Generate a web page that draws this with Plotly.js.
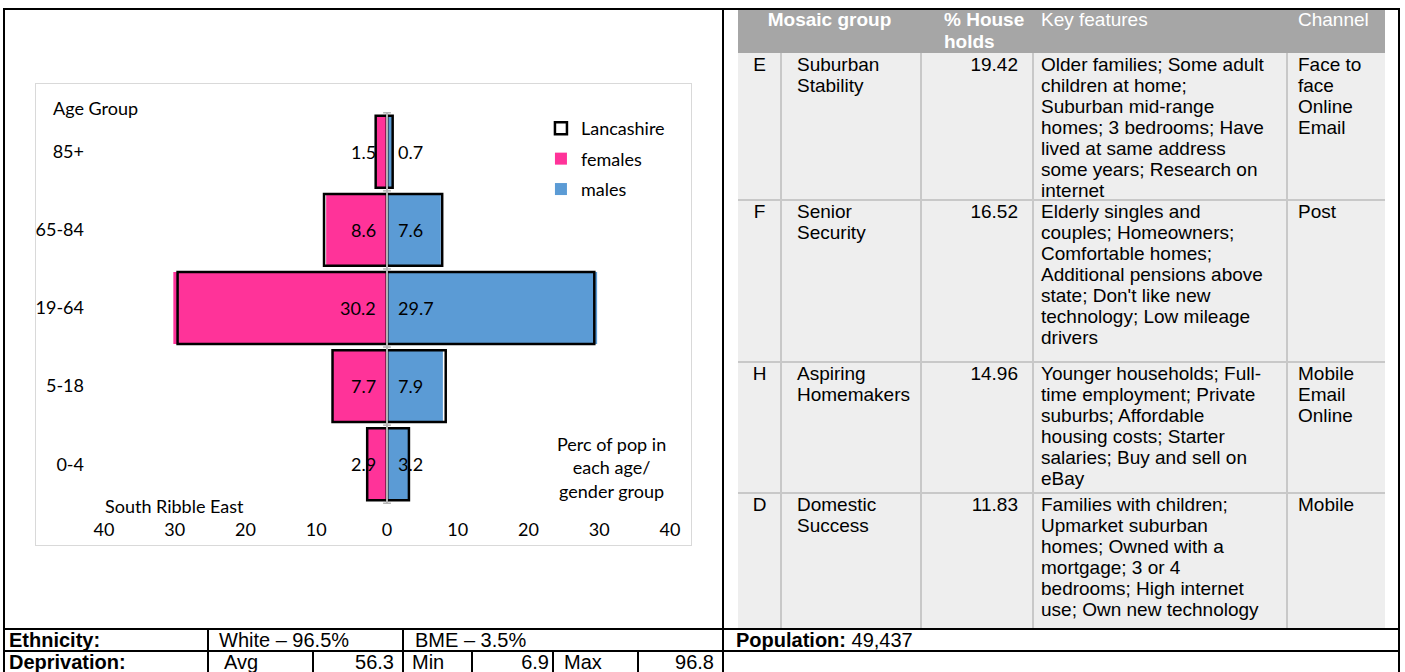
<!DOCTYPE html>
<html><head><meta charset="utf-8">
<script src="https://cdn.plot.ly/plotly-3.0.1.min.js"></script>
<style>
html,body{margin:0;padding:0;background:#fff;}
body{width:1405px;height:672px;position:relative;overflow:hidden;font-family:"Liberation Sans",Arial,sans-serif;color:#000;}
.ln{position:absolute;background:#000;}
.gl{position:absolute;background:#c8c8c8;}
.box{position:absolute;}
.cell{position:absolute;font-size:19px;line-height:21px;white-space:nowrap;}
.hd{position:absolute;font-size:19px;line-height:21.5px;white-space:nowrap;color:#fff;}
#chart{position:absolute;left:35px;top:83px;width:657px;height:463px;}
#frame{position:absolute;left:35px;top:83px;width:655px;height:461px;border:1px solid #d9d9d9;pointer-events:none;}
.bt{position:absolute;line-height:20px;white-space:nowrap;}
</style></head>
<body>
<div id="chart"></div>
<div id="frame"></div>
<script>
// ---- chart data ----
const ageGroups = ['0-4', '5-18', '19-64', '65-84', '85+'];
const females = [2.9, 7.7, 30.2, 8.6, 1.5];
const males = [3.2, 7.9, 29.7, 7.6, 0.7];
const lancFemales = [2.8, 7.7, 29.6, 8.9, 1.6];
const lancMales = [3.1, 8.3, 29.3, 7.8, 0.8];
const xTicks = [-40, -30, -20, -10, 0, 10, 20, 30, 40];
const xTickText = ['40', '30', '20', '10', '0', '10', '20', '30', '40'];

// ---- mosaic table data ----
const mosaicHeaders = ['Mosaic group', '% House<br>holds', 'Key features', 'Channel'];
const mosaicCodes = ['E', 'F', 'H', 'D'];
const mosaicNames = [['Suburban', 'Stability'], ['Senior', 'Security'], ['Aspiring', 'Homemakers'], ['Domestic', 'Success']];
const mosaicPct = ['19.42', '16.52', '14.96', '11.83'];
const mosaicFeatures = [
  ['Older families; Some adult', 'children at home;', 'Suburban mid-range', 'homes; 3 bedrooms; Have', 'lived at same address', 'some years; Research on', 'internet'],
  ['Elderly singles and', 'couples; Homeowners;', 'Comfortable homes;', 'Additional pensions above', "state; Don't like new", 'technology; Low mileage', 'drivers'],
  ['Younger households; Full-', 'time employment; Private', 'suburbs; Affordable', 'housing costs; Starter', 'salaries; Buy and sell on', 'eBay'],
  ['Families with children;', 'Upmarket suburban', 'homes; Owned with a', 'mortgage; 3 or 4', 'bedrooms; High internet', 'use; Own new technology']
];
const mosaicChannels = [['Face to', 'face', 'Online', 'Email'], ['Post'], ['Mobile', 'Email', 'Online'], ['Mobile']];

// ---- bottom rows data ----
const ethnicityLabels = ['White', 'BME'];
const ethnicityValues = ['96.5', '3.5'];
const deprivationLabels = ['Avg', 'Min', 'Max'];
const deprivationValues = ['56.3', '6.9', '96.8'];
const population = '49,437';

// ---- helpers ----
function el(cls, css, html) { const d = document.createElement('div'); d.className = cls; d.style.cssText = css; if (html !== undefined) d.innerHTML = html; document.body.appendChild(d); return d; }
function hl(x1, x2, y, cls) { el(cls || 'ln', `left:${x1}px;top:${y}px;width:${x2 - x1}px;height:2px;`); }
function vl(x, y1, y2, cls) { el(cls || 'ln', `left:${x}px;top:${y1}px;width:2px;height:${y2 - y1}px;`); }

// ---- mosaic table (layout) ----
const r1 = 628, r2 = 650;
const colX = [738, 781, 921, 1033, 1287, 1385];
const rowTop = [53, 200, 362, 493];
const tableBottom = r1;
el('box', `left:${colX[0]}px;top:10px;width:${colX[5] - colX[0]}px;height:${rowTop[0] - 10}px;background:#a6a6a6;`);
el('box', `left:${colX[0]}px;top:${rowTop[0]}px;width:${colX[5] - colX[0]}px;height:${tableBottom - rowTop[0]}px;background:#eeeeee;`);
for (let c = 1; c < 5; c++) vl(colX[c] - 1, rowTop[0], tableBottom, 'gl');
for (let r = 1; r < rowTop.length; r++) hl(colX[0], colX[5], rowTop[r] - 1, 'gl');
// header
el('hd', `left:${colX[0]}px;width:${colX[2] - colX[0]}px;top:9px;text-align:center;font-weight:bold;`, mosaicHeaders[0]);
el('hd', `left:${colX[2] + 23}px;top:9px;font-weight:bold;`, mosaicHeaders[1]);
el('hd', `left:${colX[3] + 8}px;top:9px;`, mosaicHeaders[2]);
el('hd', `left:${colX[4] + 11}px;top:9px;`, mosaicHeaders[3]);
// rows
mosaicCodes.forEach((code, i) => {
  const t = rowTop[i] + 1;
  el('cell', `left:${colX[0]}px;width:${colX[1] - colX[0]}px;top:${t}px;text-align:center;`, code);
  el('cell', `left:${colX[1] + 16}px;top:${t}px;`, mosaicNames[i].join('<br>'));
  el('cell', `right:${1405 - colX[3] + 15}px;top:${t}px;text-align:right;`, mosaicPct[i]);
  el('cell', `left:${colX[3] + 8}px;top:${t}px;`, mosaicFeatures[i].join('<br>'));
  el('cell', `left:${colX[4] + 11}px;top:${t}px;`, mosaicChannels[i].join('<br>'));
});

// ---- document table lines ----
hl(3, 1400, 8); vl(3, 8, 672); vl(1398, 8, 672); vl(722, 8, 672);
hl(3, 1400, r1); hl(3, 1400, r2);
vl(207, r1, 672); vl(402, r1, 672);
vl(312, r2, 672); vl(471, r2, 672); vl(552, r2, 672); vl(637, r2, 672);

function txt(html, x, y, size, align, bold) {
  const css = `top:${y}px;font-size:${size}px;` + (align === 'right' ? `right:${1405 - x}px;` : `left:${x}px;`) + (bold ? 'font-weight:bold;' : '');
  el('bt', css, html);
}
const fs = 20;
txt('Ethnicity:', 9, r1 + 2, fs, 'left', true);
txt(ethnicityLabels[0] + ' – ' + ethnicityValues[0] + '%', 219, r1 + 2, fs);
txt(ethnicityLabels[1] + ' – ' + ethnicityValues[1] + '%', 415, r1 + 2, fs);
txt('<b>Population:</b> ' + population, 736, r1 + 2, fs);
txt('Deprivation:', 9, r2 + 2, fs, 'left', true);
txt(deprivationLabels[0], 224, r2 + 2, fs);
txt(deprivationValues[0], 394, r2 + 2, fs, 'right');
txt(deprivationLabels[1], 412, r2 + 2, fs);
txt(deprivationValues[1], 549, r2 + 2, fs, 'right');
txt(deprivationLabels[2], 564, r2 + 2, fs);
txt(deprivationValues[2], 714, r2 + 2, fs, 'right');

// ---- plotly chart ----
const cf = { family: 'Lato, "Open Sans", sans-serif', size: 18, color: '#000' };
const neg = a => a.map(v => -v);
const traces = [
  { type: 'bar', orientation: 'h', y: ageGroups, x: neg(females), name: 'females', legendgroup: 'f', legendrank: 2,
    marker: { color: '#FF3399', line: { width: 0 } }, hoverinfo: 'skip' },
  { type: 'bar', orientation: 'h', y: ageGroups, x: males, name: 'males', legendgroup: 'm', legendrank: 3,
    marker: { color: '#5B9BD5', line: { width: 0 } }, hoverinfo: 'skip' },
  { type: 'bar', orientation: 'h', y: ageGroups, x: neg(lancFemales), name: 'Lancashire', legendgroup: 'l', legendrank: 1,
    marker: { color: 'rgba(0,0,0,0)', line: { color: '#000', width: 2.5 } }, hoverinfo: 'skip' },
  { type: 'bar', orientation: 'h', y: ageGroups, x: lancMales, name: 'Lancashire', legendgroup: 'l', showlegend: false,
    marker: { color: 'rgba(0,0,0,0)', line: { color: '#000', width: 2.5 } }, hoverinfo: 'skip' }
];

const annotations = [];
ageGroups.forEach((g, i) => {
  annotations.push({ x: 0, y: g, xref: 'x', yref: 'y', text: females[i].toFixed(1), xanchor: 'right', xshift: -9, showarrow: false, font: cf });
  annotations.push({ x: 0, y: g, xref: 'x', yref: 'y', text: males[i].toFixed(1), xanchor: 'left', xshift: 9, showarrow: false, font: cf });
});
annotations.push({ xref: 'paper', yref: 'paper', x: -0.093, y: 1.01, xanchor: 'left', yanchor: 'middle', text: 'Age Group', showarrow: false, font: cf });
annotations.push({ xref: 'paper', yref: 'paper', x: 0.1237, y: -0.005, xanchor: 'center', yanchor: 'middle', text: 'South Ribble East', showarrow: false, font: cf });
annotations.push({ xref: 'paper', yref: 'paper', x: 0.8975, y: 0.094, xanchor: 'center', yanchor: 'middle', align: 'center', text: 'Perc of pop in<br>each age/<br>gender group', showarrow: false, font: cf });

const shapes = [{ type: 'line', xref: 'x', yref: 'paper', x0: 0, x1: 0, y0: 0, y1: 1, line: { color: '#b4b4b4', width: 2 }, layer: 'above' }];
for (let k = 0; k <= ageGroups.length; k++) {
  shapes.push({ type: 'line', xref: 'x', yref: 'y', x0: -0.55, x1: 0.55, y0: k - 0.5, y1: k - 0.5, line: { color: '#b4b4b4', width: 1.5 }, layer: 'above' });
}

const layout = {
  width: 657, height: 463,
  margin: { l: 69, r: 22, t: 29, b: 42 },
  paper_bgcolor: 'rgba(0,0,0,0)', plot_bgcolor: 'rgba(0,0,0,0)',
  barmode: 'overlay', bargap: 0.08,
  font: cf,
  showlegend: true,
  legend: { x: 0.772, y: 1.005, xanchor: 'left', yanchor: 'top', font: cf, traceorder: 'grouped', tracegroupgap: 4, bgcolor: 'rgba(0,0,0,0)' },
  xaxis: { range: [-40, 40], tickvals: xTicks, ticktext: xTickText, showgrid: false, zeroline: false, showline: false, ticks: '', tickfont: cf, ticklabelstandoff: 13, fixedrange: true },
  yaxis: { type: 'category', categoryarray: ageGroups, categoryorder: 'array', showgrid: false, zeroline: false, showline: false, ticks: '', tickfont: cf, ticklabelstandoff: 19, fixedrange: true },
  annotations: annotations,
  shapes: shapes
};
Plotly.newPlot('chart', traces, layout, { staticPlot: true, displayModeBar: false });
</script>
</body></html>
